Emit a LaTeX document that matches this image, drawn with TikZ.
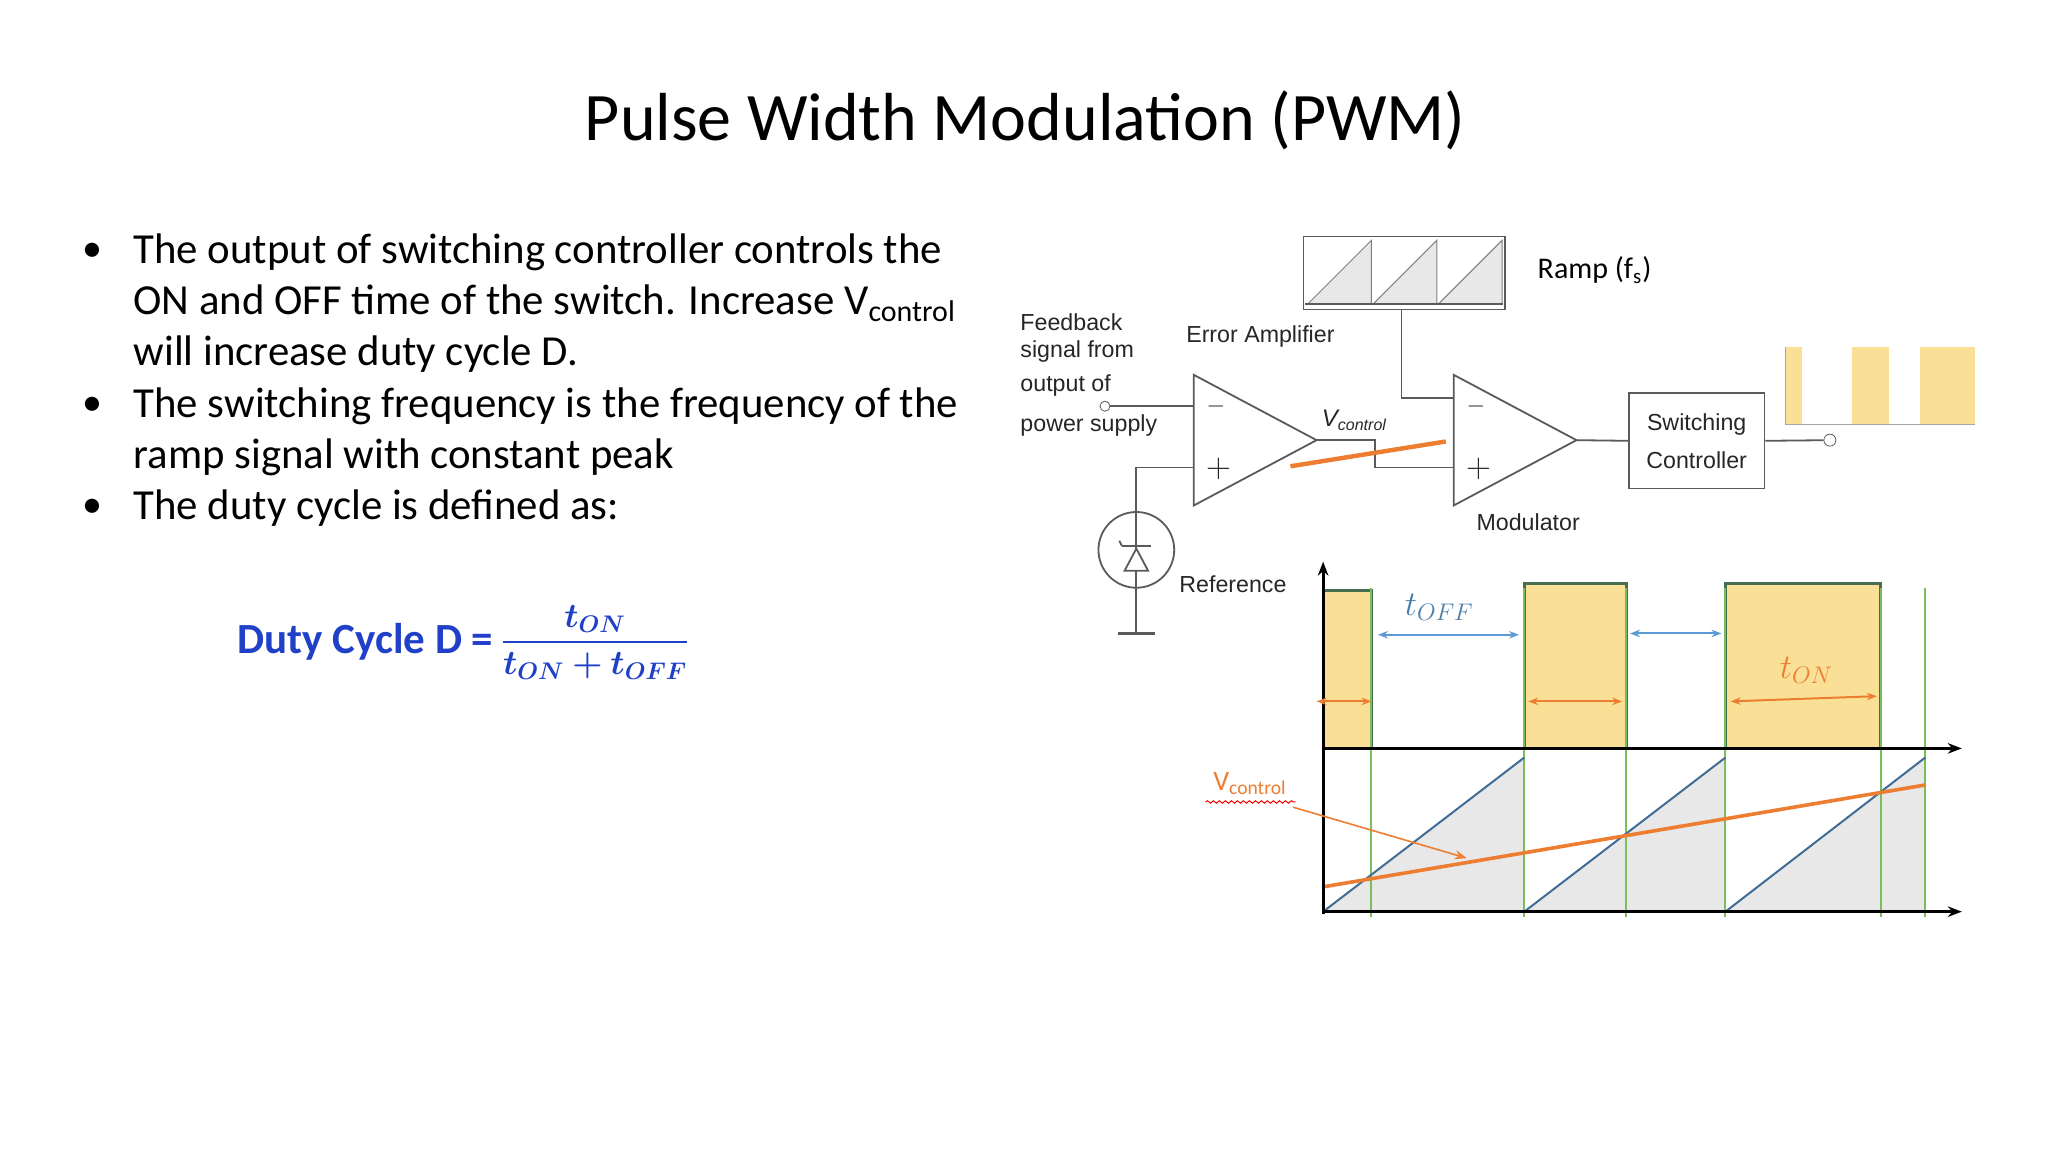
\documentclass[tikz,border=0pt]{standalone}
\usepackage{fontspec}
\usepackage{amsmath,bm}
\setmainfont{Carlito}
\newfontfamily\arialf{Liberation Sans}
\usetikzlibrary{arrows.meta,decorations.pathmorphing}
\definecolor{ylw}{RGB}{250,224,150}
\definecolor{grn}{RGB}{120,190,90}
\definecolor{org}{RGB}{237,125,49}
\definecolor{blu}{RGB}{91,155,213}
\definecolor{dblue}{RGB}{32,64,200}
\definecolor{rgray}{RGB}{232,232,232}
\definecolor{wire}{RGB}{90,90,90}
\definecolor{pedge}{RGB}{70,110,80}
\begin{document}
\begin{tikzpicture}[x=0.653pt,y=-0.653pt,
  bul/.style={anchor=base west,inner sep=0,font=\fontsize{21.4}{24}\selectfont},
  lab/.style={font=\arialf\fontsize{11.6}{13}\selectfont,inner sep=0,text=black!85},
  w/.style={draw=wire,line width=0.9pt},
  opamp/.style={w,fill=white},
  ax/.style={line width=1.6pt,-{Stealth[length=7pt]}},
  gl/.style={draw=grn,line width=1pt}]
\useasboundingbox (0,0) rectangle (1568,882);
\node[font=\fontsize{34}{40}\selectfont] (title) at (785,92) {Pulse Width Modulation (PWM)};
% bullets
\foreach \y in {193,311,389} \node[inner sep=0,font=\fontsize{20}{24}\selectfont] at (71,\y) {•};
\node[bul] (b1) at (102,202) {The output of switching controller controls the};
\node[bul] (b2) at (102,241) {ON and OFF time of the switch. Increase V\textsubscript{control}};
\node[bul] (b3) at (102,280) {will increase duty cycle D.};
\node[bul] (b4) at (102,320) {The switching frequency is the frequency of the};
\node[bul] (b5) at (102,359) {ramp signal with constant peak};
\node[bul] (b6) at (102,398) {The duty cycle is defined as:};
\node[anchor=east,inner sep=0,text=dblue,font=\bfseries\fontsize{21.5}{24}\selectfont] (dc) at (378,491) {Duty Cycle D =};
\node[anchor=west,inner sep=0,text=dblue,font=\fontsize{17}{20}\selectfont] (fr) at (383,492) {$\displaystyle\frac{\bm{t_{ON}}}{\bm{t_{ON}+t_{OFF}}}$};
% ramp box
\draw[w,fill=white] (998,181) rectangle (1152,237);
\foreach \a in {1001,1051,1101} {
  \fill[rgray] (\a,233) -- (\a+49,184) -- (\a+49,233) -- cycle;
  \draw[draw=gray,line width=0.5pt] (\a,233) -- (\a+49,184) -- (\a+49,233);}
\draw[w] (999,233) -- (1151,233);
\node[anchor=west,font=\fontsize{15}{16}\selectfont,inner sep=0] (ramp) at (1177,207) {Ramp (f\textsubscript{s})};
% error amp
\draw[opamp] (914,287) -- (1008,337) -- (914,387) -- cycle;
\coordinate (eam) at (914,311); \coordinate (eap) at (914,358);
\node[lab] at (931,311) {$-$}; \node[lab,font=\fontsize{16}{16}\selectfont] at (933,359) {$+$};
% modulator
\draw[opamp] (1113,287) -- (1207,337) -- (1113,387) -- cycle;
\node[lab] at (1130,311) {$-$}; \node[lab,font=\fontsize{16}{16}\selectfont] at (1132,359) {$+$};
% wires
\draw[w] (1073,237) -- (1073,305) -- (1113,305);
\draw[w] (1008,337) -- (1053,337) -- (1053,358) -- (1113,358);
\draw[org,line width=2.2pt] (988,357) -- (1107,338);
\node[lab,font=\arialf\itshape\fontsize{12}{13}\selectfont] at (1037,322) {V\textsubscript{control}};
\node[draw=wire,circle,inner sep=0,minimum size=5pt] (fb) at (846,311) {};
\draw[w] (fb) -- (eam);
\node[lab,anchor=west,align=left] at (781,247) {Feedback};
\node[lab,anchor=west] at (781,269) {signal from};
\node[lab,anchor=west] at (781,295) {output of};
\node[lab,anchor=west] at (781,326) {power supply};
\node[lab] at (965,258) {Error Amplifier};
\node[lab] at (1170,400) {Modulator};
% switching controller
\node[draw=wire,line width=0.9pt,minimum width=104*0.653pt,minimum height=73*0.653pt,align=center,lab,inner sep=0] (sc) at (1299,337.5) {Switching\\[6pt]Controller};
\draw[w] (1207,337) -- (sc.west);
\node[draw=wire,circle,inner sep=0,minimum size=6pt] (out) at (1401,337) {};
\draw[w] (sc.east) -- (out);
% output pulses
\foreach \a/\b in {1367/1380,1418/1446,1470/1512} \fill[ylw] (\a,266) rectangle (\b,325);
\draw[draw=gray!70,line width=0.6pt] (1367,266) -- (1367,325) -- (1512,325);
% reference
\draw[w] (eap) -- (870,358) -- (870,485);
\draw[w,fill=white] (870,421) circle (29);
\draw[w] (870,392) -- (870,450);
\draw[w,fill=white] (870,420) -- (861,437) -- (879,437) -- cycle;
\draw[w] (859,418) -- (881,418); \draw[w] (859,418) -- (857,414);
\draw[w,line width=1.2pt] (856,485) -- (884,485);
\node[lab] at (944,447) {Reference};
% waveforms
\foreach \a/\b/\t in {1013/1050/452,1167/1245/447,1321/1440/447}
  \draw[fill=ylw,draw=pedge,line width=1.4pt] (\a,573) -- (\a,\t) -- (\b,\t) -- (\b,573);
\foreach \a/\b in {1013/1167,1167/1321,1321/1474}
  \fill[rgray] (\a,698) -- (\b,580) -- (\b,698) -- cycle;
\foreach \x in {1050,1167,1245,1321,1440,1474} \draw[gl] (\x,450) -- (\x,702);
\foreach \a/\b in {1013/1167,1167/1321,1321/1474}
  \draw[draw=blu!70!black,line width=1pt] (\a,698) -- (\b,580);
\draw[org,line width=1.8pt] (1013,679) -- (1474,601);
\draw[ax] (1013,700) -- (1013,430);
\draw[ax] (1013,573) -- (1502,573);
\draw[ax] (1013,698) -- (1502,698);
\draw[blu,line width=1pt,{Stealth[length=5pt]}-{Stealth[length=5pt]}] (1055,486) -- (1163,486);
\draw[blu,line width=1pt,{Stealth[length=5pt]}-{Stealth[length=5pt]}] (1248,485) -- (1318,485);
\node[text=blu!80!black,font=\fontsize{18}{18}\selectfont,inner sep=0] at (1102,465) {$t_{OFF}$};
\draw[org,line width=1pt,{Stealth[length=5pt]}-{Stealth[length=5pt]}] (1008,537) -- (1050,537);
\draw[org,line width=1pt,{Stealth[length=5pt]}-{Stealth[length=5pt]}] (1170,537) -- (1242,537);
\draw[org,line width=1pt,{Stealth[length=5pt]}-{Stealth[length=5pt]}] (1325,537) -- (1437,533);
\node[text=org,font=\fontsize{18}{18}\selectfont,inner sep=0] at (1383,513) {$t_{ON}$};
\node[text=org,font=\fontsize{14}{14}\selectfont,inner sep=0] (vc) at (957,600) {V\textsubscript{control}};
\draw[red,line width=0.5pt,decorate,decoration={snake,amplitude=0.6pt,segment length=3pt}] (923,614) -- (992,614);
\draw[org,line width=0.8pt,-{Stealth[length=6pt]}] (990,618) -- (1123,657);
\end{tikzpicture}
\end{document}
